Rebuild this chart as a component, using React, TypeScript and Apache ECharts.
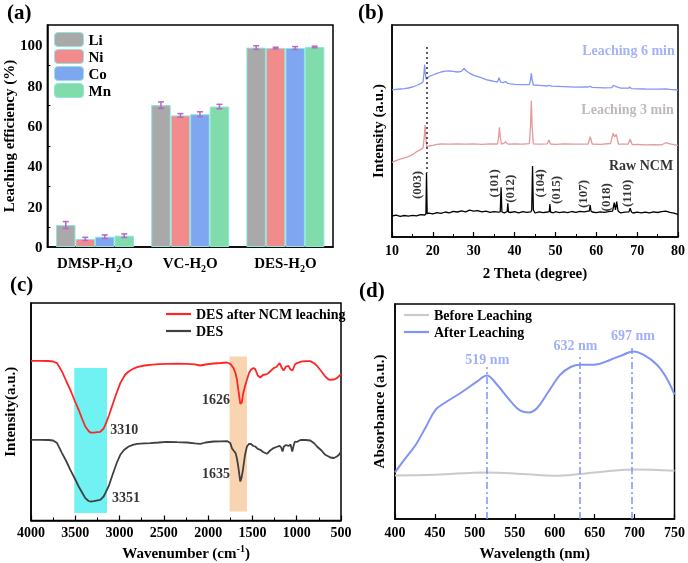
import React, { useEffect, useRef } from "react";
import * as echarts from "echarts";

const FONT = '"Liberation Serif", "Times New Roman", serif';

// ---------- (a) leaching efficiency ----------
const solvents = ["DMSP-H2O", "VC-H2O", "DES-H2O"];
const metals = ["Li", "Ni", "Co", "Mn"];
const liEff = [10.9, 70.3, 98.8];
const niEff = [4.0, 65.2, 98.6];
const coEff = [5.1, 65.8, 98.6];
const mnEff = [5.6, 69.6, 99.1];
const liErr = [1.7, 1.6, 0.9];
const niErr = [0.8, 0.9, 0.4];
const coErr = [0.9, 1.2, 0.7];
const mnErr = [0.9, 1.1, 0.4];

// ---------- (b) XRD  [2theta, intensity a.u.] ----------
const xrdRaw = [
  [10, 21], [11, 21.8], [12, 20.6], [13, 21.5], [14, 20.9], [15, 21.7], [16, 21.2], [17, 22.3], [18, 22], [18.3, 23],
  [18.45, 64.3], [18.6, 23.5], [19, 23.8], [20, 23.2], [21, 24.4], [22, 23.7], [23, 25], [24, 24.1], [25, 25.6], [26, 25],
  [27, 26.1], [28, 25.2], [29, 26.8], [30, 25.9], [31, 26.4], [32, 25.1], [33, 25.8], [34, 24.6], [35, 25.4], [36, 24.8],
  [36.5, 25.2], [36.7, 49.7], [36.9, 25], [37.5, 24.2], [38.2, 25.5], [38.35, 33.7], [38.5, 25], [39, 24.5], [40, 25.3],
  [41, 24.2], [42, 25.4], [43, 24.6], [44, 25.2], [44.2, 27], [44.4, 71], [44.6, 27], [44.8, 25.5], [45, 24], [46, 25.2],
  [47, 24.3], [48, 25], [48.5, 25.4], [48.65, 33], [48.8, 25], [49.5, 24.2], [50, 25.3], [51, 24.4], [52, 25.1], [53, 24.3],
  [54, 25.5], [55, 24.6], [56, 25.7], [57, 25.1], [58, 25.8], [58.3, 26], [58.5, 32], [58.7, 26], [59, 25], [60, 24.3],
  [61, 25.2], [62, 24.6], [63, 25.4], [64, 25.8], [64.4, 34.3], [64.7, 27], [65, 35.3], [65.3, 26.5], [65.6, 25], [66, 24.2],
  [67, 24.8], [68, 25.2], [68.3, 28.7], [68.6, 25], [69, 24], [70, 24.8], [71, 24.1], [72, 24.9], [73, 24.2], [74, 25.1],
  [75, 24.5], [76, 25.3], [77, 25.9], [78, 24.6], [79, 23.8], [80, 22.7],
];
const xrd3min = [
  [10, 74.7], [11, 76.3], [12, 77.8], [13, 79.1], [14, 80.3], [15, 82.3], [16, 85.3], [17, 87.3], [17.6, 89], [17.9, 100],
  [18.1, 112], [18.3, 98], [18.5, 90.3], [19, 91], [20, 91.7], [21, 92.6], [22, 93], [24, 92.8], [26, 93.1], [28, 92.9],
  [30, 93.2], [32, 92.7], [34, 93.1], [35.8, 93], [36.1, 100], [36.3, 109.7], [36.5, 100], [36.8, 93], [37.5, 93.8],
  [37.8, 95.3], [38.1, 93.5], [38.5, 92.8], [40, 93.2], [42, 92.9], [43.6, 93.3], [43.9, 110], [44.1, 136.3], [44.3, 110],
  [44.6, 93.1], [46, 92.8], [48, 93.2], [48.4, 97], [48.8, 93], [50, 92.7], [52, 93.1], [55, 92.8], [58, 93], [58.5, 100.3],
  [59, 93], [61, 92.7], [63.5, 93.5], [64.1, 103.7], [64.5, 100], [64.9, 102.7], [65.4, 93], [66, 92.8], [67.8, 93],
  [68.3, 97.7], [68.8, 92.3], [70, 92.5], [72, 92.2], [74, 92.4], [76, 92.1], [77, 94.3], [78, 93.2], [79, 92.3], [80, 91.7],
];
const xrd6min = [
  [10, 147.2], [11, 147.6], [12, 148], [13, 148.4], [14, 149], [15, 150], [16, 151.5], [17, 153.3], [17.6, 155.3],
  [17.85, 165], [18, 172.4], [18.15, 163], [18.4, 157.7], [19, 160.3], [20, 162], [21, 163.6], [22, 165], [23, 165.8],
  [24, 166], [25, 165.6], [26, 165], [27, 165.6], [27.6, 168.7], [28.2, 166], [29, 163.8], [30, 161.7], [31, 160.4],
  [32, 159.2], [33, 157.4], [34, 156.5], [35, 155.6], [35.8, 155], [36.2, 159.3], [36.6, 154.8], [37.2, 154.3], [37.8, 155.5],
  [38.3, 153.7], [39, 153.2], [40, 152.7], [42, 152.3], [43.6, 152.4], [43.9, 157], [44.1, 163.7], [44.3, 157], [44.6, 152],
  [46, 151.7], [48, 151], [48.5, 151.7], [49, 150.8], [52, 150.4], [55, 149.9], [58, 150], [58.5, 150.7], [59, 149.6],
  [62, 149.2], [63.8, 149.3], [64.2, 151.7], [64.6, 151], [65, 150.2], [66, 148.8], [68, 149], [68.2, 150], [68.6, 148.4],
  [70, 148.2], [72, 148], [75, 147.9], [77, 148.2], [78, 147.6], [80, 147],
];
const xrdPeakNames = ["(003)", "(101)", "(012)", "(104)", "(015)", "(107)", "(018)", "(110)"];
const xrdPeakLabelAt = [[16.0, 52], [34.8, 53.7], [38.7, 48.3], [46.2, 53.7], [50.0, 47], [56.6, 43], [62.3, 39.7], [67.4, 43.7]];
const xrdCurveNames = ["Leaching 6 min", "Leaching 3 min", "Raw NCM"];
const xrdCurveLabelAt = [[79.2, 186.3], [79.0, 127.7], [78.8, 71.3]];
const xrdRefLine = [[18.45, 190], [18.45, 64.3]];

// ---------- (c) FTIR  [wavenumber, intensity a.u.] ----------
const ftirAfter = [
  [4000, 159.7], [3900, 159.6], [3800, 159.5], [3750, 159], [3706, 157.4], [3650, 149], [3600, 139], [3556, 130.7],
  [3500, 118.5], [3462, 110.7], [3420, 101], [3387, 94], [3350, 89.5], [3330, 88], [3290, 87.8], [3250, 88.3], [3218, 88.7],
  [3180, 92], [3161, 95.7], [3120, 105], [3086, 114], [3040, 126], [2992, 137.4], [2940, 145.5], [2898, 149], [2850, 151.5],
  [2803, 153.4], [2720, 155], [2653, 155.7], [2560, 156.4], [2465, 156.7], [2350, 156.8], [2239, 156.7], [2150, 156.2],
  [2089, 155], [2030, 156], [1938, 157], [1860, 157.5], [1787, 158], [1750, 156.7], [1713, 152.4], [1690, 147], [1674, 140.7],
  [1655, 128], [1637, 116.7], [1620, 118], [1607, 125.7], [1585, 134], [1562, 140.7], [1540, 147], [1517, 150.7], [1490, 152.5],
  [1468, 151.4], [1440, 145], [1411, 143], [1380, 145.5], [1336, 146.4], [1300, 149], [1261, 152.4], [1230, 153.5],
  [1193, 157.4], [1170, 153], [1148, 150], [1120, 154], [1092, 154.7], [1070, 151], [1047, 150], [1020, 156], [997, 157.4],
  [950, 158.8], [900, 159.4], [847, 159.4], [800, 157], [771, 154.7], [720, 149], [678, 144], [640, 141], [621, 140.7],
  [580, 141], [546, 142.4], [520, 144.5], [500, 146.7],
];
const ftirDES = [
  [4000, 80.7], [3900, 80.6], [3800, 80.5], [3750, 80], [3706, 77.4], [3650, 67.4], [3600, 59], [3556, 50.7], [3500, 41],
  [3462, 34], [3420, 27.5], [3387, 22.4], [3350, 19.5], [3330, 19], [3290, 19.4], [3250, 20.2], [3218, 20.7], [3180, 24],
  [3161, 27.4], [3120, 35], [3086, 44], [3030, 58], [2992, 65.7], [2950, 70.5], [2898, 74], [2850, 75.7], [2803, 76.7],
  [2720, 77.2], [2653, 77.4], [2560, 78], [2465, 78.7], [2350, 78.3], [2239, 78], [2150, 77.2], [2089, 76.7], [2030, 78],
  [1938, 79], [1860, 79.2], [1787, 79.4], [1750, 77.4], [1730, 72], [1713, 70], [1690, 67.4], [1675, 62], [1660, 54],
  [1645, 44], [1637, 39], [1625, 42], [1607, 50.7], [1585, 65], [1562, 74], [1540, 76.5], [1517, 76.7], [1490, 74.5],
  [1468, 74], [1440, 71.7], [1411, 70.7], [1380, 68.5], [1336, 66.7], [1300, 70], [1261, 72.4], [1230, 73.5], [1193, 74.7],
  [1175, 73], [1160, 69], [1145, 74], [1120, 75.5], [1092, 74.5], [1070, 76], [1050, 69], [1035, 75], [1020, 79], [997, 78.5],
  [970, 80], [950, 80.7], [900, 80.5], [847, 80], [800, 77], [771, 74], [720, 70], [678, 65.7], [640, 64], [621, 63],
  [580, 62.5], [546, 64], [520, 66], [500, 69],
];
const ftirBands = [[3511, 3142, 152.4, 7.4], [1758, 1562, 164, 9]];
const ftirPeakNames = ["3310", "3351", "1626", "1635"];
const ftirPeakLabelAt = [[3105, 90.7], [3086, 22.7], [2069, 120.7], [2069, 47.4]];

// ---------- (d) UV-Vis  [wavelength, absorbance a.u.] ----------
const uvBefore = [[400, 43.6], [450, 44.3], [515, 46.6], [560, 45], [600, 43.3], [632, 45], [660, 47.3], [700, 49.6], [750, 48.3]];
const uvAfter = [
  [400, 46.6], [411.7, 59.3], [426, 74.3], [439, 92.6], [451, 109.3], [462, 116], [482, 126], [503, 137.6], [515, 143.6],
  [526, 136], [545, 117.6], [557, 108.3], [568, 106.6], [578, 111], [591, 126], [607, 144.3], [620, 152], [632, 154.3],
  [649, 154.3], [670, 159.3], [686, 164.3], [698, 167.6], [711, 164.3], [728, 154.3], [740, 141], [750, 124.3],
];
const uvPeakNames = ["519 nm", "632 nm", "697 nm"];
const uvPeakLine = [[515, 152], [631, 165.3], [697, 171]];
const uvPeakLabelAt = [[515.6, 159.3], [626, 173.3], [697.9, 183.3]];

const BAR_W = 19.5;
const barColors = ["#a9a9a9", "#f28c8c", "#7fa6f0", "#80dcab"];

const bold = (size: number, color = "#000") => ({ fontFamily: FONT, fontWeight: "bold" as const, fontSize: size, color });

export default function App() {
  const ref = useRef<HTMLDivElement>(null);
  useEffect(() => {
    if (!ref.current) return;
    const chart = echarts.init(ref.current, undefined, { renderer: "svg" });
    const effs = [liEff, niEff, coEff, mnEff];
    const errs = [liErr, niErr, coErr, mnErr];

    const frame = { show: true, borderColor: "#000", borderWidth: 1.5, backgroundColor: "transparent" };
    const axisLine = { show: true, lineStyle: { color: "#000", width: 1.5 } };
    const plain = (v: number) => String(v);

    const barSeries = metals.map((m, i) => ({
      type: "bar",
      name: m,
      xAxisIndex: 0,
      yAxisIndex: 0,
      data: effs[i],
      barWidth: BAR_W,
      barGap: "0%",
      itemStyle: { color: barColors[i], borderColor: "#8fe6de", borderWidth: 1 },
    }));
    const errSeries = metals.map((m, i) => ({
      type: "custom",
      name: m + " error",
      xAxisIndex: 0,
      yAxisIndex: 0,
      z: 5,
      silent: true,
      data: solvents.map((_, j) => [j, effs[i][j], errs[i][j]]),
      encode: { x: 0, y: 1 },
      renderItem: (params: any, api: any) => {
        const j = api.value(0);
        const v = api.value(1);
        const e = api.value(2);
        const top = api.coord([j, v + e]);
        const bot = api.coord([j, v - e]);
        const off = (i - 1.5) * BAR_W;
        const x = top[0] + off;
        const style = { stroke: "#b967c4", lineWidth: 1.5 };
        return {
          type: "group",
          children: [
            { type: "line", shape: { x1: x, y1: top[1], x2: x, y2: bot[1] }, style },
            { type: "line", shape: { x1: x - 3, y1: top[1], x2: x + 3, y2: top[1] }, style },
            { type: "line", shape: { x1: x - 3, y1: bot[1], x2: x + 3, y2: bot[1] }, style },
          ],
        };
      },
    }));

    const textSeries = (xi: number, names: string[], at: number[][], label: any, colors?: string[]) => ({
      type: "scatter",
      xAxisIndex: xi,
      yAxisIndex: xi,
      symbolSize: 0,
      silent: true,
      z: 6,
      data: names.map((n, k) => ({
        name: n,
        value: at[k],
        label: colors ? { color: colors[k] } : undefined,
      })),
      label: { show: true, position: "inside", formatter: "{b}", ...label },
    });

    const lineLegend = (data: string[], left: number, top: number) => ({
      data, orient: "vertical", left, top, icon: "rect", itemWidth: 25, itemHeight: 2.2,
      itemGap: 3, textStyle: { ...bold(14), lineHeight: 14 }, selectedMode: false, padding: 0,
    });

    const option: any = {
      animation: false,
      title: [
        { text: "(a)", left: 7, top: 1, padding: 0, textStyle: bold(21) },
        { text: "(b)", left: 358, top: 1, padding: 0, textStyle: bold(21) },
        { text: "(c)", left: 10, top: 273, padding: 0, textStyle: bold(21) },
        { text: "(d)", left: 359, top: 279, padding: 0, textStyle: bold(21) },
      ],
      legend: [
        {
          data: metals, orient: "vertical", left: 54, top: 32, itemWidth: 29, itemHeight: 14, itemGap: 2,
          textStyle: bold(15), selectedMode: false, padding: 0, itemStyle: { borderColor: "#8fe6de", borderWidth: 1 },
        },
        lineLegend(["DES after NCM leaching", "DES"], 166, 307),
        lineLegend(["Before Leaching", "After Leaching"], 404, 308),
      ],
      grid: [
        { left: 45, top: 25, width: 288, height: 222, ...frame },
        { left: 392, top: 25, width: 287, height: 212, ...frame },
        { left: 31, top: 303, width: 310, height: 217.5, ...frame },
        { left: 395, top: 304, width: 280, height: 215, ...frame },
      ],
      xAxis: [
        {
          type: "category", gridIndex: 0, data: solvents, axisLine, axisTick: { show: false },
          axisLabel: {
            margin: 6,
            interval: 0,
            formatter: (v: string) => {
              const k = v.indexOf("H2O");
              return `{n|${v.slice(0, k)}H}{sub|2}{n|O}`;
            },
            rich: {
              n: { ...bold(15), lineHeight: 20, verticalAlign: "middle" },
              sub: { ...bold(10), lineHeight: 10, verticalAlign: "bottom" },
            },
          },
        },
        {
          type: "value", gridIndex: 1, min: 10, max: 80, interval: 10, axisLine,
          axisTick: { inside: true, length: 5, lineStyle: { color: "#000", width: 1.2 } },
          minorTick: { show: true, splitNumber: 2, length: 3, lineStyle: { color: "#000", width: 1 } },
          splitLine: { show: false },
          axisLabel: { ...bold(14), margin: 6, formatter: plain },
          name: "2 Theta (degree)", nameLocation: "middle", nameGap: 28, nameTextStyle: bold(15),
        },
        {
          type: "value", gridIndex: 2, min: 500, max: 4000, interval: 500, inverse: true, axisLine,
          axisTick: { inside: true, length: 5, lineStyle: { color: "#000", width: 1.2 } },
          minorTick: { show: true, splitNumber: 2, length: 3, lineStyle: { color: "#000", width: 1 } },
          splitLine: { show: false },
          axisLabel: { ...bold(14), margin: 5, formatter: plain },
          name: "{n|Wavenumber (cm}{sup|-1}{n|)}", nameLocation: "middle", nameGap: 23,
          nameTextStyle: {
            ...bold(15),
            rich: {
              n: { ...bold(15), lineHeight: 18, verticalAlign: "middle" },
              sup: { ...bold(10), lineHeight: 10, verticalAlign: "top" },
            },
          },
        },
        {
          type: "value", gridIndex: 3, min: 400, max: 750, interval: 50, axisLine,
          axisTick: { inside: true, length: 5, lineStyle: { color: "#000", width: 1.2 } },
          splitLine: { show: false },
          axisLabel: { ...bold(14), margin: 6, formatter: plain },
          name: "Wavelength (nm)", nameLocation: "middle", nameGap: 26, nameTextStyle: bold(15),
        },
      ],
      yAxis: [
        {
          type: "value", gridIndex: 0, min: 0, max: 110, interval: 20, axisLine,
          axisTick: { inside: true, length: 5, lineStyle: { color: "#000", width: 1.2 } },
          minorTick: { show: true, splitNumber: 2, length: 3, lineStyle: { color: "#000", width: 1 } },
          splitLine: { show: false },
          axisLabel: { ...bold(15), margin: 5, showMaxLabel: false, formatter: plain },
          name: "Leaching efficiency (%)", nameLocation: "middle", nameGap: 27, nameTextStyle: bold(15),
        },
        {
          type: "value", gridIndex: 1, min: 0, max: 212, axisLine, axisTick: { show: false }, axisLabel: { show: false },
          splitLine: { show: false },
          name: "Intensity (a.u.)", nameLocation: "middle", nameGap: 7, nameTextStyle: bold(15),
        },
        {
          type: "value", gridIndex: 2, min: 0, max: 217.5, axisLine, axisTick: { show: false }, axisLabel: { show: false },
          splitLine: { show: false },
          name: "Intensity(a.u.)", nameLocation: "middle", nameGap: 14, nameTextStyle: bold(15),
        },
        {
          type: "value", gridIndex: 3, min: 0, max: 215, axisLine, axisTick: { show: false }, axisLabel: { show: false },
          splitLine: { show: false },
          name: "Absorbance (a.u.)", nameLocation: "middle", nameGap: 9, nameTextStyle: bold(15),
        },
      ],
      series: [
        ...barSeries,
        ...errSeries,
        // (b)
        {
          type: "line", name: "Raw NCM", xAxisIndex: 1, yAxisIndex: 1, data: xrdRaw, symbol: "none",
          lineStyle: { color: "#000", width: 1.3 },
          markLine: {
            silent: true, symbol: ["none", "none"], label: { show: false },
            lineStyle: { color: "#333", type: [2, 3], width: 1.6 },
            data: [[{ coord: xrdRefLine[0] }, { coord: xrdRefLine[1] }]],
          },
        },
        {
          type: "line", name: "Leaching 3 min", xAxisIndex: 1, yAxisIndex: 1, data: xrd3min, symbol: "none",
          lineStyle: { color: "#e39a9a", width: 1.3 },
        },
        {
          type: "line", name: "Leaching 6 min", xAxisIndex: 1, yAxisIndex: 1, data: xrd6min, symbol: "none",
          lineStyle: { color: "#8397f5", width: 1.3 },
        },
        textSeries(1, xrdPeakNames, xrdPeakLabelAt, { rotate: 90, ...bold(13) }),
        textSeries(1, xrdCurveNames, xrdCurveLabelAt, { align: "right", ...bold(14) }, ["#8fa0f5", "#b0a8a8", "#000"]),
        // (c)
        {
          type: "line", name: "DES", xAxisIndex: 2, yAxisIndex: 2, data: ftirDES, symbol: "none",
          lineStyle: { color: "#404040", width: 1.8 }, itemStyle: { color: "#404040" },
          markArea: {
            silent: true,
            data: ftirBands.map((b, k) => [
              { coord: [b[0], b[2]], itemStyle: { color: k === 0 ? "#70f2f2" : "#f9d4b0" } },
              { coord: [b[1], b[3]] },
            ]),
          },
        },
        {
          type: "line", name: "DES after NCM leaching", xAxisIndex: 2, yAxisIndex: 2, data: ftirAfter, symbol: "none",
          lineStyle: { color: "#ff2525", width: 1.8 }, itemStyle: { color: "#ff2525" },
        },
        textSeries(2, ftirPeakNames, ftirPeakLabelAt, { align: "left", ...bold(14) }),
        // (d)
        {
          type: "line", name: "Before Leaching", xAxisIndex: 3, yAxisIndex: 3, data: uvBefore, symbol: "none", smooth: 0.4,
          lineStyle: { color: "#c9c9cf", width: 2 }, itemStyle: { color: "#c9c9cf" },
        },
        {
          type: "line", name: "After Leaching", xAxisIndex: 3, yAxisIndex: 3, data: uvAfter, symbol: "none", smooth: 0.4,
          lineStyle: { color: "#7f94f3", width: 2 }, itemStyle: { color: "#7f94f3" },
          markLine: {
            silent: true, symbol: ["none", "none"], label: { show: false },
            lineStyle: { color: "#7f94f3", type: [7, 3, 2, 3], width: 1.5 },
            data: uvPeakLine.map((p) => [{ coord: [p[0], 0] }, { coord: [p[0], p[1]] }]),
          },
        },
        textSeries(3, uvPeakNames, uvPeakLabelAt, { ...bold(14, "#8a9cf5") }),
      ],
    };
    chart.setOption(option);
    return () => chart.dispose();
  }, []);
  return <div ref={ref} style={{ position: "fixed", left: 0, top: 0, width: 688, height: 563 }} />;
}
